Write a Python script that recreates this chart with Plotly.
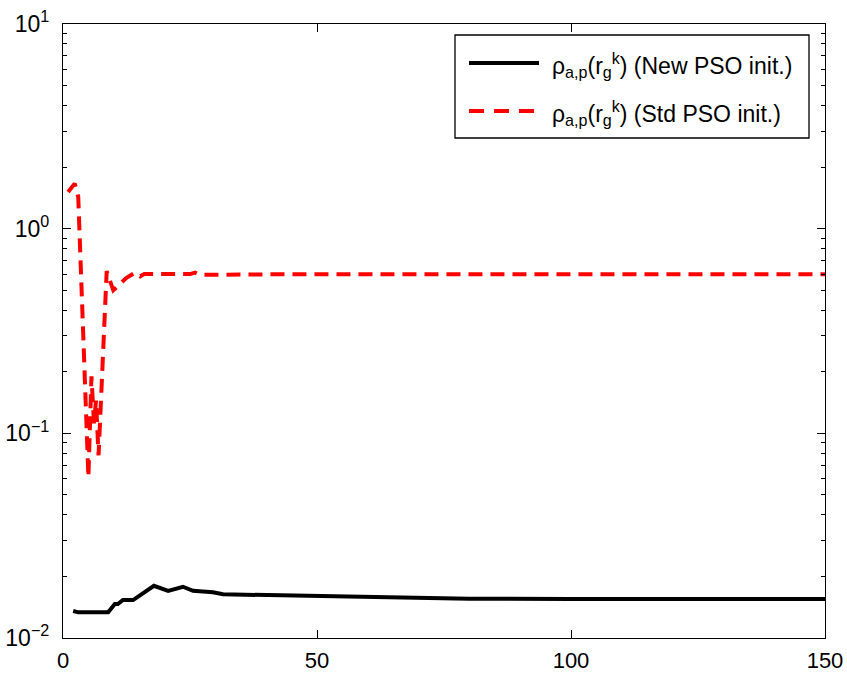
import plotly.graph_objects as go

# ---- data ----
new_x = [2, 3, 8.9, 10.2, 10.8, 11.8, 13.8, 15.5, 16.5, 17.9, 20.7, 23.6, 25.6, 29.5, 31.5, 38.8, 50, 66, 80, 100, 150]
new_y = [0.01355, 0.01335, 0.01335, 0.01466, 0.01466, 0.01533, 0.01533, 0.0163, 0.0170, 0.0180, 0.0170,
         0.0178, 0.0170, 0.01672, 0.01635, 0.01622, 0.0160, 0.0158, 0.01555, 0.01552, 0.0155]

std_x = [1, 2.3, 3, 4, 5, 5.6, 6.1, 6.5, 7, 8.6, 9.9, 12.5, 14.2, 15.2, 16, 25, 26, 27, 40, 150]
std_y = [1.51, 1.66, 1.43, 0.30, 0.061, 0.19, 0.112, 0.145, 0.078, 0.62, 0.50, 0.575, 0.61, 0.585, 0.60,
         0.60, 0.61, 0.595, 0.598, 0.598]

x_ticks = [0, 50, 100, 150]
y_ticks = [0.01, 0.1, 1, 10]
y_tick_text = ["10<sup>\u22122</sup>", "10<sup>\u22121</sup>", "10<sup>0</sup>", "10<sup>1</sup>"]
minor_vals = [m * 10.0 ** e for e in (-2, -1, 0) for m in range(2, 10)]

name_new = "\u03c1<sub>a,p</sub>(r<sub>g</sub><sup>k</sup>) (New PSO init.)"
name_std = "\u03c1<sub>a,p</sub>(r<sub>g</sub><sup>k</sup>) (Std PSO init.)"

FONT = "Liberation Sans, Arial, sans-serif"

fig = go.Figure()
fig.add_trace(go.Scatter(x=new_x, y=new_y, mode="lines", name=name_new,
                         line=dict(color="black", width=4), showlegend=False))
fig.add_trace(go.Scatter(x=std_x, y=std_y, mode="lines", name=name_std,
                         line=dict(color="#ff0000", width=4, dash="14px,8px"), showlegend=False))
# invisible traces so the minor-tick axes are drawn
fig.add_trace(go.Scatter(x=[None], y=[None], yaxis="y2", showlegend=False, hoverinfo="skip"))
fig.add_trace(go.Scatter(x=[None], y=[None], yaxis="y3", showlegend=False, hoverinfo="skip"))

# manual legend (MATLAB-style)
L, R, T, B = 63, 825, 24, 638
def px(x):
    return (x - L) / (R - L)
def py(y):
    return (B - y) / (B - T)

fig.add_shape(type="rect", xref="paper", yref="paper", x0=px(455), x1=px(809), y0=py(138), y1=py(35),
              line=dict(color="black", width=1.3), fillcolor="white", layer="above")
fig.add_shape(type="line", xref="paper", yref="paper", x0=px(469), x1=px(539), y0=py(63), y1=py(63),
              line=dict(color="black", width=4), layer="above")
fig.add_shape(type="line", xref="paper", yref="paper", x0=px(469), x1=px(539), y0=py(111), y1=py(111),
              line=dict(color="#ff0000", width=4, dash="15px,10px"), layer="above")
fig.add_annotation(xref="paper", yref="paper", x=px(550), y=py(65), text=name_new, showarrow=False,
                   xanchor="left", yanchor="middle", font=dict(family=FONT, size=23, color="black"))
fig.add_annotation(xref="paper", yref="paper", x=px(550), y=py(113), text=name_std, showarrow=False,
                   xanchor="left", yanchor="middle", font=dict(family=FONT, size=23, color="black"))

fig.update_layout(
    width=847, height=673,
    margin=dict(l=L, r=847 - R, t=T, b=673 - B, autoexpand=False),
    paper_bgcolor="white", plot_bgcolor="white",
    font=dict(family=FONT, size=22, color="black"),
    showlegend=False,
    xaxis=dict(range=[0, 150], tickvals=x_ticks, ticks="inside", ticklen=8, tickcolor="black",
               showline=True, linecolor="black", linewidth=1.3, mirror="ticks", showgrid=False,
               zeroline=False, ticklabelstandoff=2, tickfont=dict(size=22), automargin=False),
    yaxis=dict(type="log", range=[-2, 1], tickvals=y_ticks, ticktext=y_tick_text, ticks="inside",
               ticklen=8, tickcolor="black", showline=True, linecolor="black", linewidth=1.3,
               mirror="ticks", showgrid=False, zeroline=False, ticklabelstandoff=8,
               tickfont=dict(size=23), automargin=False),
    yaxis2=dict(type="log", range=[-2, 1], overlaying="y", side="left", anchor="x",
                tickvals=minor_vals, ticks="inside", ticklen=4, tickcolor="black",
                showticklabels=False, showline=False, showgrid=False, zeroline=False, automargin=False),
    yaxis3=dict(type="log", range=[-2, 1], overlaying="y", side="right", anchor="x",
                tickvals=minor_vals, ticks="inside", ticklen=4, tickcolor="black",
                showticklabels=False, showline=False, showgrid=False, zeroline=False, automargin=False),
)

fig.write_html("out.html")
